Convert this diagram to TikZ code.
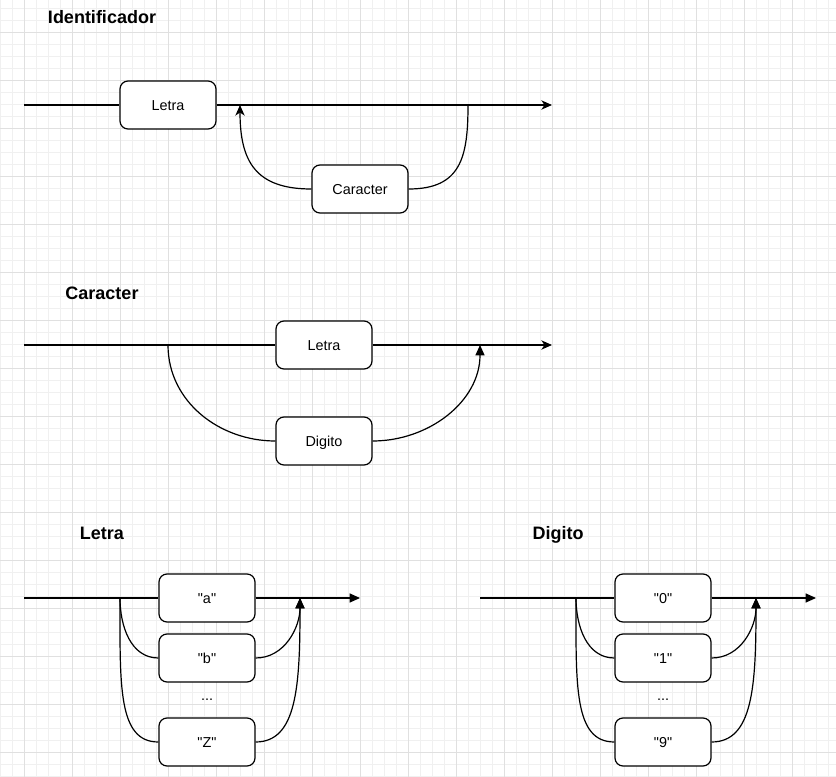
\documentclass[tikz,border=0pt]{standalone}
\usepackage{fontspec}
\setmainfont{Liberation Sans}
\usetikzlibrary{arrows.meta,positioning}

\newcommand{\qt}[1]{\textquotedbl#1\textquotedbl}

\begin{document}
\begin{tikzpicture}[x=0.75pt,y=-0.75pt,node distance=45pt,on grid,line width=0.9pt,
    box/.style={draw,rounded corners=6pt,fill=white,minimum width=72pt,minimum height=36pt,
      inner sep=0pt,text height=7.7pt,text depth=0pt,font=\fontsize{10.8pt}{13pt}\selectfont},
    title/.style={anchor=base,font=\bfseries\fontsize{13.5pt}{16pt}\selectfont},
    dots/.style={anchor=base,font=\fontsize{10.8pt}{13pt}\selectfont},
    tip classic/.style={-{Stealth[length=8pt,width=7pt,inset=2.4pt]}},
    tip block/.style={-{Triangle[length=7.8pt,width=6.8pt]}},
    long down/.style={out looseness=1.5,in looseness=0.7},
    long up/.style={out looseness=0.7,in looseness=1.5},
    minor/.style={draw=black!6,line width=0.75pt},
    major/.style={draw=black!12,line width=0.75pt}]

      \useasboundingbox[fill=white] (0,0) rectangle (836,777);
      \foreach \gx in {0,...,69} \draw[minor] ({0.3+12*\gx},0) -- ++(0,777);
      \foreach \gy in {0,...,64} \draw[minor] (0,{8.7+12*\gy}) -- ++(836,0);
      \foreach \gx in {0,...,16} \draw[major] ({24.3+48*\gx},0) -- ++(0,777);
      \foreach \gy in {0,...,15} \draw[major] (0,{32.7+48*\gy}) -- ++(836,0);

      \node[title] (t_ident) at (102,23.3) {Identificador};
      \coordinate (id_in) at (24,105);
      \node[box] (id_letra) at (168,105) {Letra};
      \coordinate (id_join) at (240,105);
      \coordinate (id_split) at (468,105);
      \coordinate (id_out) at (552,105);
      \node[box] (id_car) at (360,189) {Caracter};

      \node[title] (t_car) at (102,299.3) {Caracter};
      \coordinate (car_in) at (24,345);
      \coordinate (car_split) at (168,345);
      \node[box] (car_letra) at (324,345) {Letra};
      \node[box] (car_dig) [below=72pt of car_letra] {Digito};
      \coordinate (car_join) at (480,345);
      \coordinate (car_out) at (552,345);

      \node[title] (t_letra) at (102,539.5) {Letra};
      \coordinate (lt_in) at (24,598);
      \coordinate (lt_split) at (120,598);
      \node[box] (lt_a) at (207,598) {\qt{a}};
      \node[box] (lt_b) [below=of lt_a] {\qt{b}};
      \node[dots] (lt_dots) at (207,700) {...};
      \node[box] (lt_z) [below=63pt of lt_b] {\qt{Z}};
      \coordinate (lt_join) at (300,598);
      \coordinate (lt_out) at (360,598);

      \node[title] (t_dig) at (558,539.5) {Digito};
      \coordinate (dg_in) at (480,598);
      \coordinate (dg_split) at (576,598);
      \node[box] (dg_0) at (663,598) {\qt{0}};
      \node[box] (dg_1) [below=of dg_0] {\qt{1}};
      \node[dots] (dg_dots) at (663,700) {...};
      \node[box] (dg_9) [below=63pt of dg_1] {\qt{9}};
      \coordinate (dg_join) at (756,598);
      \coordinate (dg_out) at (816,598);

        \path[draw]
          (id_in) edge (id_letra)
          (id_letra) edge [tip classic] (id_out)
          (id_split) edge [out=-90,in=0,looseness=1.3] (id_car)
          (id_car) edge [out=180,in=-90,looseness=1.3,tip classic] (id_join)

          (car_in) edge (car_letra)
          (car_letra) edge [tip classic] (car_out)
          (car_split) edge [out=-90,in=180] (car_dig)
          (car_dig) edge [out=0,in=-90,tip block] (car_join)

          (lt_in) edge (lt_a)
          (lt_a) edge [tip block] (lt_out)
          (lt_split) edge [out=-90,in=180] (lt_b)
          (lt_split) edge [out=-90,in=180,long down] (lt_z)
          (lt_b) edge [out=0,in=-90,tip block] (lt_join)
          (lt_z) edge [out=0,in=-90,long up,tip block] (lt_join)

          (dg_in) edge (dg_0)
          (dg_0) edge [tip block] (dg_out)
          (dg_split) edge [out=-90,in=180] (dg_1)
          (dg_split) edge [out=-90,in=180,long down] (dg_9)
          (dg_1) edge [out=0,in=-90,tip block] (dg_join)
          (dg_9) edge [out=0,in=-90,long up,tip block] (dg_join);
    \end{tikzpicture}
\end{document}
